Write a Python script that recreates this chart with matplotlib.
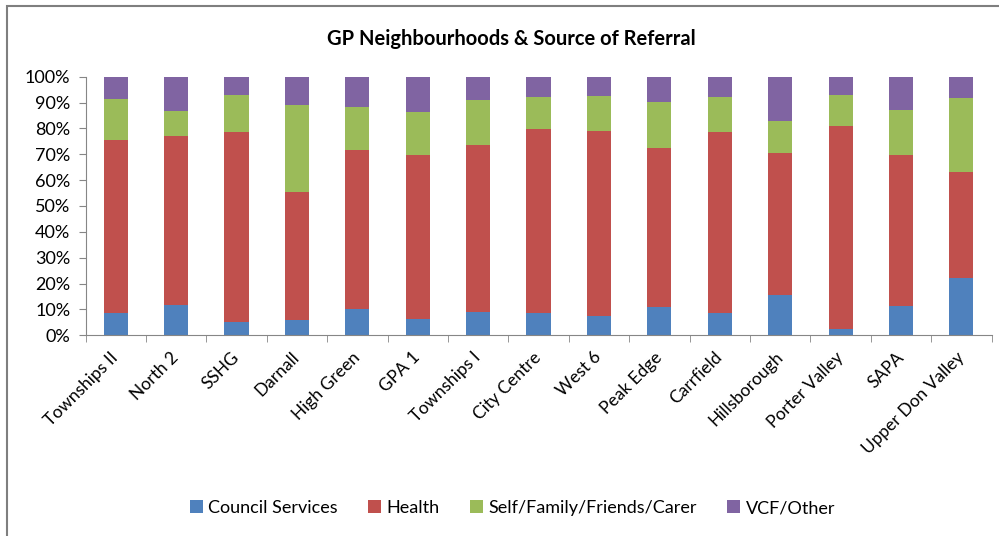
import matplotlib.pyplot as plt
import numpy as np
from matplotlib.patches import Rectangle

plt.rcParams['font.family'] = ['Lato', 'DejaVu Sans']

neighbourhoods = ['Townships II', 'North 2', 'SSHG', 'Darnall', 'High Green', 'GPA 1',
                  'Townships I', 'City Centre', 'West 6', 'Peak Edge', 'Carrfield',
                  'Hillsborough', 'Porter Valley', 'SAPA', 'Upper Don Valley']
council = [8.5, 11.8, 5.1, 5.9, 10.2, 6.4, 9.1, 8.6, 7.3, 10.9, 8.5, 15.7, 2.4, 11.2, 22.0]
health = [67.0, 65.2, 73.5, 49.6, 61.6, 63.2, 64.5, 71.1, 71.7, 61.6, 70.1, 54.8, 78.5, 58.4, 41.1]
self_family = [15.9, 9.7, 14.2, 33.7, 16.5, 16.6, 17.5, 12.3, 13.7, 17.6, 13.4, 12.2, 12.0, 17.6, 28.7]
vcf_other = [8.6, 13.3, 7.2, 10.8, 11.7, 13.8, 8.9, 8.0, 7.3, 9.9, 8.0, 17.3, 7.1, 12.8, 8.2]

series = [('Council Services', council, '#4f81bd'),
          ('Health', health, '#c0504d'),
          ('Self/Family/Friends/Carer', self_family, '#9bbb59'),
          ('VCF/Other', vcf_other, '#8064a2')]

fig = plt.figure(figsize=(9.99, 5.36), dpi=100)
ax = fig.add_axes([0.0856, 0.3744, 0.907, 0.4826])

x = np.arange(len(neighbourhoods))
bottom = np.zeros(len(neighbourhoods))
for name, vals, col in series:
    vals = np.array(vals)
    ax.bar(x, vals, 0.4, bottom=bottom, color=col, label=name, edgecolor='none')
    bottom += vals

ax.set_xlim(-0.5, len(neighbourhoods) - 0.5)
ax.set_ylim(0, 100)
ax.set_yticks(np.arange(0, 101, 10))
ax.set_yticklabels(['%d%%' % v for v in range(0, 101, 10)], fontsize=13)

ax.set_xticks(x)
ax.set_xticklabels(neighbourhoods, rotation=45, ha='right', va='center', rotation_mode='anchor',
                   fontsize=12.5)
ax.tick_params(axis='x', length=0, pad=14)
ax.set_xticks(np.arange(-0.5, len(neighbourhoods)), minor=True)
ax.tick_params(axis='x', which='minor', length=5, color='#868686')
ax.tick_params(axis='y', length=5, color='#868686', pad=6)

for s in ['top', 'right']:
    ax.spines[s].set_visible(False)
for s in ['left', 'bottom']:
    ax.spines[s].set_color('#868686')

fig.text(0.512, 0.928, 'GP Neighbourhoods & Source of Referral', ha='center', va='center',
         fontsize=14.5, fontweight='bold')

handles, labels = ax.get_legend_handles_labels()
fig.legend(handles, labels, loc='center', bbox_to_anchor=(0.513, 0.052), ncol=4, frameon=False,
           fontsize=13, handlelength=0.7, handleheight=0.7, handletextpad=0.3, columnspacing=1.7)

# outer chart border (left and top visible)
fig.patches.append(Rectangle((7 / 999, -0.1), 1.2, 1.1 - 6 / 536, transform=fig.transFigure,
                             fill=False, edgecolor='#7f7f7f', linewidth=1.5))

fig.savefig('out.png', dpi=100)
